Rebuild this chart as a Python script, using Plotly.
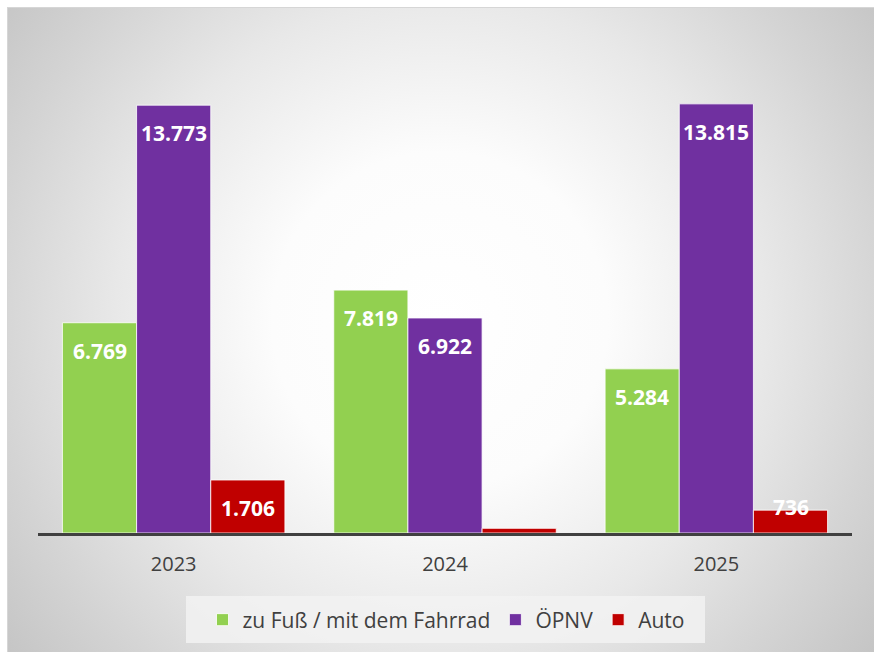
import base64
import plotly.graph_objects as go

years = ["2023", "2024", "2025"]
series_names = ["zu Fuß / mit dem Fahrrad", "ÖPNV", "Auto"]
fuss_rad = [6769, 7819, 5284]
oepnv = [13773, 6922, 13815]
auto = [1706, 150, 736]
colors = ["#92D050", "#7030A0", "#C00000"]

W, H = 874, 652
ML, MR, MT, MB = 38, 22, 36, 119
PW, PH = W - ML - MR, H - MT - MB
YMAX = 16000
BARGAP = 0.18

def fmt(v):
    return f"{v:,}".replace(",", ".")

def px_x(p):
    return (p - ML) / PW

def px_y(p):
    return (MT + PH - p) / PH

# radial gradient background as inline SVG
gw, gh = W - 7, H - 7
svg = f'''<svg xmlns="http://www.w3.org/2000/svg" width="{gw}" height="{gh}" viewBox="0 0 {gw} {gh}" preserveAspectRatio="none">
<defs><radialGradient id="g" gradientUnits="userSpaceOnUse" cx="{440-7}" cy="{320-7}" r="560">
<stop offset="0" stop-color="#ffffff"/><stop offset="0.3" stop-color="#fcfcfc"/>
<stop offset="0.58" stop-color="#e8e8e8"/><stop offset="0.8" stop-color="#d4d4d4"/>
<stop offset="1" stop-color="#c3c3c3"/></radialGradient></defs>
<rect x="0" y="0" width="{gw}" height="{gh}" fill="url(#g)"/>
<rect x="0.5" y="0.5" width="{gw}" height="{gh}" fill="none" stroke="#d6d6d6" stroke-width="1"/>
</svg>'''
src = "data:image/svg+xml;base64," + base64.b64encode(svg.encode()).decode()

fig = go.Figure()
all_vals = [fuss_rad, oepnv, auto]
for name, vals, col in zip(series_names, all_vals, colors):
    fig.add_trace(go.Bar(
        x=list(range(len(years))), y=vals, name=name,
        marker=dict(color=col, line=dict(color="rgba(255,255,255,0.8)", width=1)),
        hoverinfo="x+y",
    ))

bw = (1 - BARGAP) / 3
annotations = []
px_per_unit = PH / YMAX
for si, vals in enumerate(all_vals):
    for ci, v in enumerate(vals):
        hpx = v * px_per_unit
        if v < 500:
            continue
        shift = -28 if hpx > 40 else 3
        annotations.append(dict(
            x=ci + (si - 1) * bw, y=v, xref="x", yref="y",
            text=f"<b>{fmt(v)}</b>", showarrow=False,
            yanchor="middle", yshift=shift,
            font=dict(family="Open Sans", size=21, color="white"),
        ))

fig.update_layout(
    width=W, height=H,
    margin=dict(l=ML, r=MR, t=MT, b=MB, pad=0),
    paper_bgcolor="white", plot_bgcolor="rgba(0,0,0,0)",
    barmode="group", bargap=BARGAP, bargroupgap=0,
    font=dict(family="Open Sans", color="#404040"),
    xaxis=dict(
        tickmode="array", tickvals=list(range(len(years))), ticktext=years,
        range=[-0.5, 2.5], showgrid=False, zeroline=False,
        showline=True, linecolor="#404040", linewidth=3,
        ticks="outside", ticklen=11, tickcolor="rgba(0,0,0,0)",
        tickfont=dict(size=20, color="#404040"),
    ),
    yaxis=dict(range=[0, YMAX], visible=False, showgrid=False, zeroline=False),
    legend=dict(
        orientation="h", xanchor="center", x=px_x(446), yanchor="middle",
        y=px_y(620), bgcolor="rgba(0,0,0,0)",
        font=dict(size=21, color="#404040"), itemwidth=30,
        traceorder="normal",
    ),
    shapes=[dict(
        type="rect", xref="paper", yref="paper",
        x0=px_x(186), x1=px_x(705), y0=px_y(643), y1=px_y(596),
        fillcolor="rgba(242,242,242,0.85)", line=dict(width=0), layer="below",
    )],
    showlegend=True,
    annotations=annotations,
    images=[dict(
        source=src, xref="paper", yref="paper",
        x=px_x(7), y=px_y(7),
        sizex=gw / PW, sizey=gh / PH,
        xanchor="left", yanchor="top", sizing="stretch", layer="below",
    )],
)

fig.write_html("out.html", config={"displayModeBar": False},
               post_script="document.body.style.margin='0';")
